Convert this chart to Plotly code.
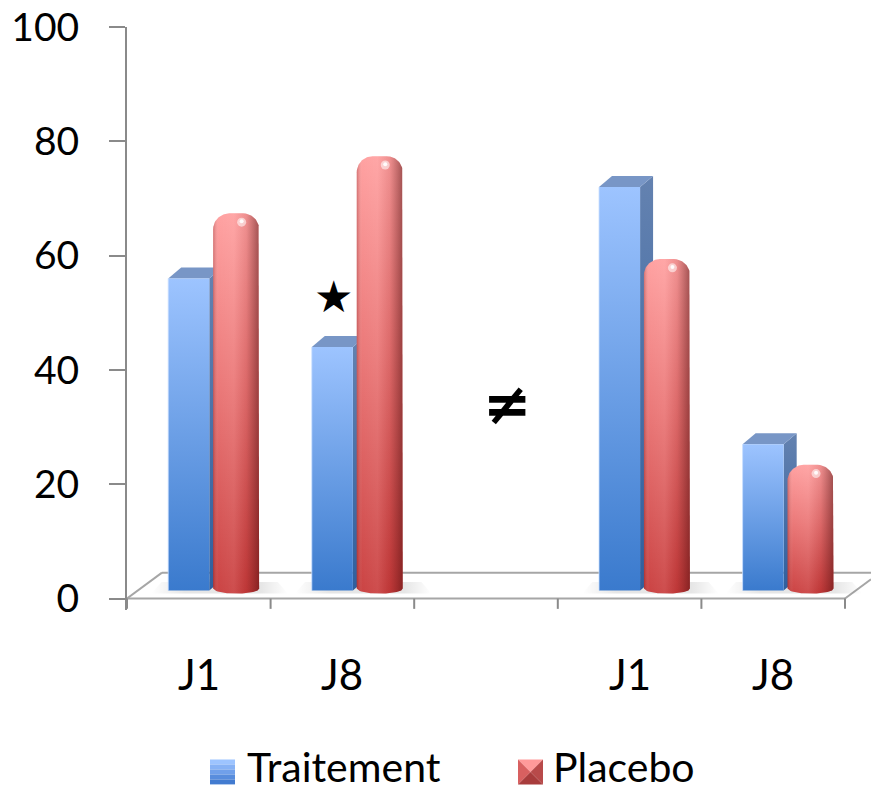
import math
import plotly.graph_objects as go

# ---- data ----
categories = ["J1", "J8", "", "J1", "J8"]
slots = [0, 1, 3, 4]                      # positions of the filled categories
labels = ["J1", "J8", "J1", "J8"]
traitement = [56, 44, 72, 27]
placebo = [66, 76, 58, 22]
y_ticks = [0, 20, 40, 60, 80, 100]

# ---- geometry (pixels -> axis units) ----
W, H = 874, 792
L, R, T, B = 127, 3, 25, 182
X_LO, PX_PER_CAT = -0.5, 143.6
X_HI = X_LO + (W - L - R) / PX_PER_CAT
Y_LO, Y_HI = -2, 100
PX_PER_UNIT_Y = 573 / 100
px_x = 1 / PX_PER_CAT
px_y = 1 / PX_PER_UNIT_Y

FONT = "Lato, 'Open Sans', sans-serif"
GRAY = "#8a8a8a"
FLOOR = "#a6a6a6"

fig = go.Figure()


def poly(xs, ys, grad=None, color=None):
    kw = dict(x=xs + [xs[0]], y=ys + [ys[0]], mode="lines", fill="toself",
              line=dict(width=0), hoverinfo="skip", showlegend=False)
    if grad is not None:
        kw["fillgradient"] = grad
    else:
        kw["fillcolor"] = color
    fig.add_trace(go.Scatter(**kw))


# soft shadows on the floor behind each pair
for c in slots:
    poly([c - 0.33, c + 0.62, c + 0.55, c - 0.26],
         [0.9, 0.9, 2.9, 2.9],
         grad=dict(type="horizontal",
                   colorscale=[[0, "rgba(0,0,0,0)"], [0.25, "rgba(0,0,0,0.10)"],
                               [0.8, "rgba(0,0,0,0.10)"], [1, "rgba(0,0,0,0)"]]))

base_box = 8 * px_y          # front bottom of the boxes sits slightly above the floor edge
dx, dy = 13 * px_x, 11 * px_y

for c, v in zip(slots, traitement):
    x0, x1 = c - 0.213, c + 0.073
    # side face
    poly([x1, x1 + dx, x1 + dx, x1],
         [base_box, base_box + dy, v + dy, v],
         grad=dict(type="vertical", colorscale=[[0, "#2f5f9e"], [1, "#6482b0"]]))
    # top face
    poly([x0, x0 + dx, x1 + dx, x1],
         [v, v + dy, v + dy, v], color="#7896c6")
    # front face
    poly([x0, x1, x1, x0],
         [base_box, base_box, v, v],
         grad=dict(type="vertical", colorscale=[[0, "#3a7acd"], [1, "#9dc4ff"]]))
    # thin light edge on the left of the front face
    fig.add_trace(go.Scatter(x=[x0, x0], y=[base_box, v], mode="lines", hoverinfo="skip",
                             showlegend=False, line=dict(color="rgba(200,222,255,0.8)", width=1)))

# rounded cylinders
n_arc = 30
shoulder = 8 * px_y          # vertical sides stop this far below the value
corner_y = 16 * px_y         # height of the rounded top
corner_x = 16 * px_x         # horizontal radius of the rounded shoulders
bot_side = 10 * px_y
bot_mid = 5 * px_y
for c, v in zip(slots, placebo):
    x0, x1 = c + 0.10, c + 0.42
    xm, hw = (x0 + x1) / 2, (x1 - x0) / 2
    y_sh = v - shoulder
    xs, ys = [], []
    # bottom elliptical edge, left to right
    for i in range(n_arc + 1):
        t = -1 + 2 * i / n_arc
        xs.append(xm + hw * t)
        ys.append(bot_side - (bot_side - bot_mid) * (1 - t * t) ** 0.5)
    # rounded top, right to left: two quarter ellipses joined by a flat top
    for i in range(n_arc + 1):
        a = math.pi * i / (2 * n_arc)
        xs.append(x1 - corner_x + corner_x * math.cos(a))
        ys.append(y_sh + corner_y * math.sin(a))
    for i in range(n_arc + 1):
        a = math.pi / 2 + math.pi * i / (2 * n_arc)
        xs.append(x0 + corner_x + corner_x * math.cos(a))
        ys.append(y_sh + corner_y * math.sin(a))
    poly(xs, ys, grad=dict(type="vertical",
                           colorscale=[[0, "#c83a3a"], [0.55, "#ea7272"], [1, "#ff9d9d"]]))
    # cylindrical shading across the width
    poly(xs, ys, grad=dict(type="horizontal",
                           colorscale=[[0, "rgba(110,20,20,0.30)"],
                                       [0.12, "rgba(255,255,255,0.05)"],
                                       [0.45, "rgba(255,255,255,0.10)"],
                                       [0.72, "rgba(90,20,20,0.10)"],
                                       [1, "rgba(70,10,10,0.50)"]]))
    # specular highlight near the shoulder
    fig.add_trace(go.Scatter(x=[x0 + 0.62 * (x1 - x0)], y=[y_sh + corner_y * 0.45],
                             mode="markers", hoverinfo="skip", showlegend=False,
                             marker=dict(size=9, color="rgba(255,255,255,0.55)",
                                         line=dict(width=0))))
    fig.add_trace(go.Scatter(x=[x0 + 0.62 * (x1 - x0)], y=[y_sh + corner_y * 0.5],
                             mode="markers", hoverinfo="skip", showlegend=False,
                             marker=dict(size=4, color="rgba(255,255,255,0.9)",
                                         line=dict(width=0))))

# floor outline and x tick marks
back_y = 26 * px_y
back_x0 = X_LO + 35 * px_x
shapes = [
    dict(type="line", x0=X_LO, x1=4.5, y0=0, y1=0, line=dict(color=FLOOR, width=2)),
    dict(type="line", x0=back_x0, x1=X_HI, y0=back_y, y1=back_y, line=dict(color=FLOOR, width=2)),
    dict(type="line", x0=X_LO, x1=back_x0, y0=0, y1=back_y, line=dict(color=FLOOR, width=2)),
    dict(type="line", x0=4.5, x1=X_HI, y0=0, y1=(X_HI - 4.5) / (35 * px_x) * back_y,
         line=dict(color=FLOOR, width=2)),
]
for k in range(len(categories) + 1):
    xb = X_LO + k
    shapes.append(dict(type="line", x0=xb, x1=xb, y0=0, y1=-1.8,
                       line=dict(color=GRAY, width=2)))
for s in shapes:
    s.setdefault("layer", "below")
    s.setdefault("xref", "x")
    s.setdefault("yref", "y")


# legend swatches (paper coordinates)
def px_to_paper_x(px):
    return (px - L) / (W - L - R)


def px_to_paper_y(py):
    return (H - B - py) / (H - T - B)


blue_steps = ["#9dc4ff", "#87b2f5", "#70a0ea", "#588ddd", "#427bd0"]
sx0, sx1, sy0, sy1 = 210, 235, 760, 785
step = (sy1 - sy0) / len(blue_steps)
for i, col in enumerate(blue_steps):
    shapes.append(dict(type="rect", xref="paper", yref="paper",
                       x0=px_to_paper_x(sx0), x1=px_to_paper_x(sx1),
                       y0=px_to_paper_y(sy0 + (i + 1) * step), y1=px_to_paper_y(sy0 + i * step),
                       fillcolor=col, line=dict(width=0)))

rx0, rx1, ry0, ry1 = 518, 543, 760, 785
cx, cy = (rx0 + rx1) / 2, (ry0 + ry1) / 2
faces = [
    ([(rx0, ry0), (rx1, ry0), (cx, cy)], "#ff9a9a"),
    ([(rx0, ry0), (rx0, ry1), (cx, cy)], "#d86060"),
    ([(rx1, ry0), (rx1, ry1), (cx, cy)], "#b84a4a"),
    ([(rx0, ry1), (rx1, ry1), (cx, cy)], "#a83c3c"),
]
for pts, col in faces:
    path = "M " + " L ".join(f"{px_to_paper_x(a):.5f},{px_to_paper_y(b):.5f}" for a, b in pts) + " Z"
    shapes.append(dict(type="path", xref="paper", yref="paper", path=path,
                       fillcolor=col, line=dict(width=0)))

annotations = []
for c, lab in zip(slots, labels):
    annotations.append(dict(x=px_to_paper_x(L + (c - X_LO) * PX_PER_CAT), y=px_to_paper_y(674),
                            xref="paper", yref="paper", text=lab,
                            xanchor="center", yanchor="middle", showarrow=False,
                            font=dict(family=FONT, size=42, color="#000")))
annotations += [
    dict(x=px_to_paper_x(245), y=px_to_paper_y(767), xref="paper", yref="paper",
         text="Traitement", xanchor="left", yanchor="middle", showarrow=False,
         font=dict(family=FONT, size=41, color="#000")),
    dict(x=px_to_paper_x(551), y=px_to_paper_y(767), xref="paper", yref="paper",
         text="Placebo", xanchor="left", yanchor="middle", showarrow=False,
         font=dict(family=FONT, size=41, color="#000")),
    dict(x=(333 - L) * px_x + X_LO, y=(598 - 295) * px_y, xref="x", yref="y",
         text="★", showarrow=False, font=dict(family="DejaVu Sans", size=44, color="#000")),
    dict(x=(507 - L) * px_x + X_LO, y=(598 - 403) * px_y, xref="x", yref="y",
         text="<b>≠</b>", showarrow=False, font=dict(family="DejaVu Sans", size=58, color="#000")),
]

fig.update_layout(
    width=W, height=H,
    margin=dict(l=L, r=R, t=T, b=B),
    paper_bgcolor="white", plot_bgcolor="white",
    showlegend=False,
    shapes=shapes,
    annotations=annotations,
    xaxis=dict(range=[X_LO, X_HI], showgrid=False, zeroline=False, showline=False,
               showticklabels=False, ticks="", fixedrange=True),
    yaxis=dict(range=[Y_LO, Y_HI], tickvals=y_ticks, ticktext=[str(t) for t in y_ticks],
               showgrid=False, zeroline=False, showline=True, linecolor=GRAY, linewidth=2,
               ticks="outside", ticklen=16, tickwidth=2, tickcolor=GRAY,
               ticklabelstandoff=22,
               tickfont=dict(family=FONT, size=39, color="#000"), fixedrange=True),
)

fig.write_html("out.html")
